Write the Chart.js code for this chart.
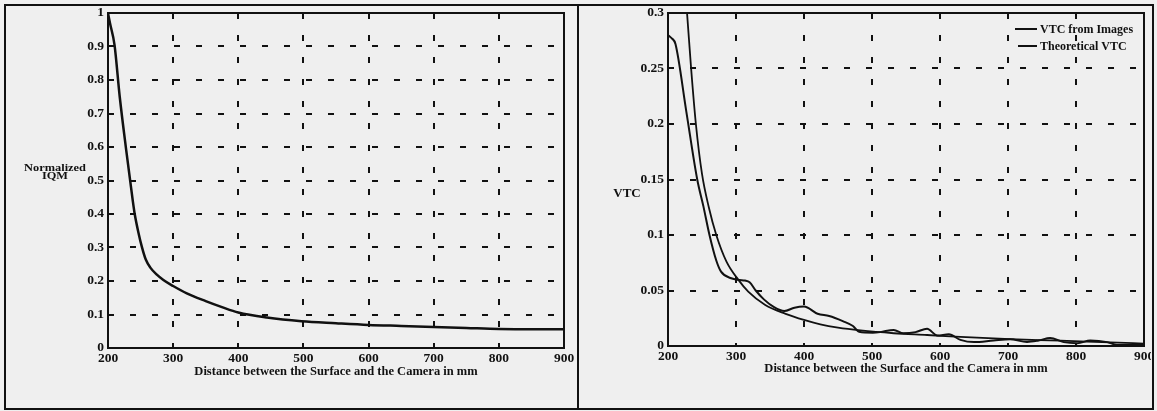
<!DOCTYPE html>
<html>
<head>
<meta charset="utf-8">
<script src="https://cdn.jsdelivr.net/npm/chart.js@4.4.1/dist/chart.umd.min.js"></script>
<style>
  html, body { margin: 0; padding: 0; background: #efefef; }
  body { width: 1157px; height: 411px; position: relative; overflow: hidden; font-family: "Liberation Serif", "Times New Roman", serif; font-weight: bold; color: #111; }
  #frame { position: absolute; left: 4px; top: 4px; width: 1150px; height: 406px; box-sizing: border-box; border: 2px solid #111; }
  #divider { position: absolute; left: 577px; top: 4px; width: 2px; height: 406px; background: #111; }
  .panel { position: absolute; top: 6px; height: 401px; overflow: hidden; }
  .panel canvas { position: absolute; left: 0; top: -10px; }
  .ylab { position: absolute; text-align: center; font-size: 10.5px; line-height: 8px; transform: scaleX(1.18); }
  .leg { position: absolute; font-size: 12px; line-height: 14px; white-space: nowrap; }
  .leg i { position: absolute; background: #111; }
</style>
</head>
<body>
<div id="frame"></div>
<div id="divider"></div>
<div class="panel" style="left:7px;width:570px"><canvas id="iqmChart" width="590" height="411"></canvas></div>
<div class="panel" style="left:579px;width:572px"><canvas id="vtcChart" width="592" height="411"></canvas></div>

<div class="ylab" style="left:22px;top:164px;width:66px">Normalized<br>IQM</div>
<div class="ylab" style="left:610px;top:186px;width:34px;font-size:13px;line-height:13px;transform:none">VTC</div>

<div class="leg" style="left:1040px;top:22px"><i style="left:-25px;top:6px;width:22px;height:2px"></i>VTC from Images</div>
<div class="leg" style="left:1040px;top:39px"><i style="left:-22px;top:6px;width:19px;height:1.5px"></i>Theoretical VTC</div>

<script>
// distance between the surface and the camera, mm
const distTicks = [200, 300, 400, 500, 600, 700, 800, 900];

// left: normalized IQM
const iqmDist = [200, 203, 210, 218, 228, 238, 241, 247, 252, 258, 265, 275, 285, 300, 321, 350, 375, 400, 444, 497, 550, 600, 650, 700, 750, 800, 850, 900];
const iqmVal = [1.0, 0.97, 0.905, 0.75, 0.59, 0.44, 0.40, 0.342, 0.302, 0.264, 0.24, 0.219, 0.203, 0.185, 0.163, 0.14, 0.122, 0.106, 0.091, 0.08, 0.074, 0.069, 0.066, 0.063, 0.06, 0.057, 0.056, 0.056];
const iqmTickLabels = ['0', '0.1', '0.2', '0.3', '0.4', '0.5', '0.6', '0.7', '0.8', '0.9', '1'];

// right: VTC
const imgDist = [200, 202, 206, 211, 227, 243, 252, 261, 271, 278, 293, 305, 313, 320, 329, 341, 356, 371, 386, 400, 420, 437, 457, 472, 481, 501, 512, 532, 546, 564, 581, 596, 613, 630, 650, 679, 703, 728, 745, 762, 782, 802, 821, 846, 860, 875, 899];
const imgVtc = [0.28, 0.279, 0.277, 0.272, 0.211, 0.15, 0.126, 0.1, 0.077, 0.067, 0.061, 0.0595, 0.059, 0.0575, 0.05, 0.042, 0.035, 0.0315, 0.0345, 0.0355, 0.029, 0.027, 0.0224, 0.018, 0.0128, 0.012, 0.0125, 0.0145, 0.0115, 0.0125, 0.0155, 0.0095, 0.0105, 0.0055, 0.0035, 0.005, 0.006, 0.0037, 0.005, 0.0072, 0.0035, 0.0025, 0.005, 0.0035, 0.001, 0.001, 0.0015];
const theoDist = [224, 228, 234, 241, 250, 260, 271, 286, 303, 318, 343, 373, 400, 424, 450, 483, 532, 581, 630, 703, 777, 850, 900];
const theoVtc = [0.33, 0.3, 0.25, 0.2, 0.155, 0.125, 0.1, 0.076, 0.06, 0.049, 0.037, 0.029, 0.0235, 0.0195, 0.0165, 0.014, 0.0115, 0.0099, 0.0082, 0.0062, 0.0048, 0.0032, 0.0022];
const vtcTickLabels = ['0', '0.05', '0.1', '0.15', '0.2', '0.25', '0.3'];

const seriesNames = ['VTC from Images', 'Theoretical VTC'];

const ink = '#111';
const serif = '"Liberation Serif", "Times New Roman", serif';
const tickFont = { family: serif, weight: 'bold', size: 13.5 };

function pts(xs, ys){ return xs.map((x, i) => ({ x: x, y: ys[i] })); }

// solid box round the plot area, over the dashed grid
const plotBox = {
  id: 'plotBox',
  afterDraw(chart){
    const a = chart.chartArea, ctx = chart.ctx;
    ctx.save();
    ctx.strokeStyle = ink;
    ctx.lineWidth = 2;
    ctx.strokeRect(a.left, a.top, a.right - a.left, a.bottom - a.top);
    ctx.restore();
  }
};

function makeChart(id, datasets, yMax, yStep, yLabels, yWidth, xHeight, padRight, titlePad){
  return new Chart(document.getElementById(id), {
    type: 'line',
    data: { datasets: datasets },
    options: {
      responsive: false,
      animation: false,
      layout: { padding: { top: 17, right: padRight, bottom: 0, left: 0 } },
      plugins: { legend: { display: false }, tooltip: { enabled: false } },
      elements: { point: { radius: 0 } },
      scales: {
        x: {
          type: 'linear', min: 200, max: 900,
          afterBuildTicks: s => { s.ticks = distTicks.map(v => ({ value: v })); },
          afterFit: s => { s.height = xHeight; },
          ticks: { color: ink, font: tickFont, padding: 2, maxRotation: 0 },
          grid: { color: ink, lineWidth: 2, drawTicks: false },
          border: { display: false, dash: [6, 16] },
          title: { display: true, text: 'Distance between the Surface and the Camera in mm', color: ink, font: { family: serif, weight: 'bold', size: 12.5 }, padding: { top: 0, bottom: titlePad } }
        },
        y: {
          min: 0, max: yMax,
          afterBuildTicks: s => { s.ticks = yLabels.map((t, i) => ({ value: +(i * yStep).toFixed(4) })); },
          afterFit: s => { s.width = yWidth; },
          ticks: { color: ink, font: tickFont, padding: 4, callback: (v, i) => yLabels[i] },
          grid: { color: ink, lineWidth: 2, drawTicks: false },
          border: { display: false, dash: [6, 16] }
        }
      }
    },
    plugins: [plotBox]
  });
}

makeChart('iqmChart', [
  { label: 'Normalized IQM', data: pts(iqmDist, iqmVal), borderColor: ink, borderWidth: 2.5, cubicInterpolationMode: 'monotone', fill: false }
], 1, 0.1, iqmTickLabels, 101, 59, 33, 28);

makeChart('vtcChart', [
  { label: seriesNames[0], data: pts(imgDist, imgVtc), borderColor: ink, borderWidth: 2, cubicInterpolationMode: 'monotone', fill: false },
  { label: seriesNames[1], data: pts(theoDist, theoVtc), borderColor: ink, borderWidth: 1.8, cubicInterpolationMode: 'monotone', fill: false }
], 0.3, 0.05, vtcTickLabels, 89, 61, 27, 31);
</script>
</body>
</html>
